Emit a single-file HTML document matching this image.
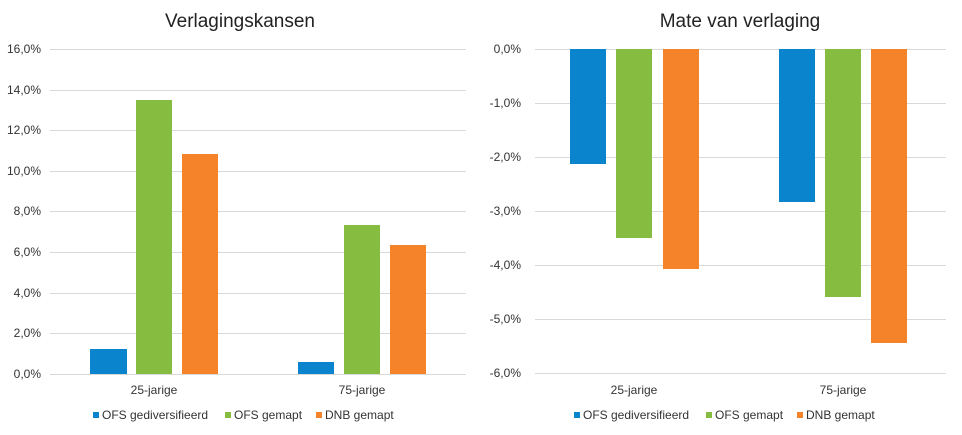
<!DOCTYPE html><html><head><style>body{margin:0;background:#fff}svg{display:block;font-family:"Liberation Sans",sans-serif}</style></head><body>
<svg width="962" height="435" xmlns="http://www.w3.org/2000/svg">
<g stroke="#d9d9d9" stroke-width="1">
<line x1="50" x2="466" y1="49.5" y2="49.5"/><line x1="50" x2="466" y1="90.5" y2="90.5"/><line x1="50" x2="466" y1="130.5" y2="130.5"/><line x1="50" x2="466" y1="171.5" y2="171.5"/><line x1="50" x2="466" y1="211.5" y2="211.5"/><line x1="50" x2="466" y1="252.5" y2="252.5"/><line x1="50" x2="466" y1="293.5" y2="293.5"/><line x1="50" x2="466" y1="333.5" y2="333.5"/><line x1="50" x2="466" y1="374.5" y2="374.5"/>
<line x1="535" x2="946" y1="49.5" y2="49.5"/><line x1="535" x2="946" y1="103.5" y2="103.5"/><line x1="535" x2="946" y1="157.5" y2="157.5"/><line x1="535" x2="946" y1="211.5" y2="211.5"/><line x1="535" x2="946" y1="265.5" y2="265.5"/><line x1="535" x2="946" y1="319.5" y2="319.5"/><line x1="535" x2="946" y1="373.5" y2="373.5"/>
</g>
<text x="240" y="27" font-size="19" text-anchor="middle" fill="#222">Verlagingskansen</text>
<text x="740" y="27" font-size="19" text-anchor="middle" fill="#222">Mate van verlaging</text>
<g font-size="12" fill="#333" text-anchor="end">
<text x="41" y="53">16,0%</text><text x="41" y="94">14,0%</text><text x="41" y="134">12,0%</text><text x="41" y="175">10,0%</text><text x="41" y="215">8,0%</text><text x="41" y="256">6,0%</text><text x="41" y="297">4,0%</text><text x="41" y="337">2,0%</text><text x="41" y="378">0,0%</text>
<text x="521" y="53">0,0%</text><text x="521" y="107">-1,0%</text><text x="521" y="161">-2,0%</text><text x="521" y="215">-3,0%</text><text x="521" y="269">-4,0%</text><text x="521" y="323">-5,0%</text><text x="521" y="377">-6,0%</text>
</g>
<rect x="90" y="349" width="37" height="25" fill="#0a84cc"/><rect x="136" y="100" width="36" height="274" fill="#86bc40"/><rect x="182" y="154" width="36" height="220" fill="#f5832a"/>
<rect x="298" y="362" width="36" height="12" fill="#0a84cc"/><rect x="344" y="225" width="36" height="149" fill="#86bc40"/><rect x="390" y="245" width="36" height="129" fill="#f5832a"/>
<rect x="570" y="49" width="36" height="115" fill="#0a84cc"/><rect x="616" y="49" width="36" height="189" fill="#86bc40"/><rect x="663" y="49" width="36" height="220" fill="#f5832a"/>
<rect x="779" y="49" width="36" height="153" fill="#0a84cc"/><rect x="825" y="49" width="36" height="248" fill="#86bc40"/><rect x="871" y="49" width="36" height="294" fill="#f5832a"/>
<g font-size="12" fill="#333" text-anchor="middle">
<text x="154" y="394">25-jarige</text><text x="362" y="394">75-jarige</text>
<text x="634" y="394">25-jarige</text><text x="843" y="394">75-jarige</text>
</g>
<g font-size="12" fill="#333">
<rect x="93" y="412" width="6" height="6" fill="#0a84cc"/><text x="102" y="419">OFS gediversifieerd</text>
<rect x="225" y="412" width="6" height="6" fill="#86bc40"/><text x="234" y="419">OFS gemapt</text>
<rect x="316" y="412" width="6" height="6" fill="#f5832a"/><text x="325" y="419">DNB gemapt</text>
<rect x="574" y="412" width="6" height="6" fill="#0a84cc"/><text x="583" y="419">OFS gediversifieerd</text>
<rect x="706" y="412" width="6" height="6" fill="#86bc40"/><text x="715" y="419">OFS gemapt</text>
<rect x="797" y="412" width="6" height="6" fill="#f5832a"/><text x="806" y="419">DNB gemapt</text>
</g>
</svg></body></html>
